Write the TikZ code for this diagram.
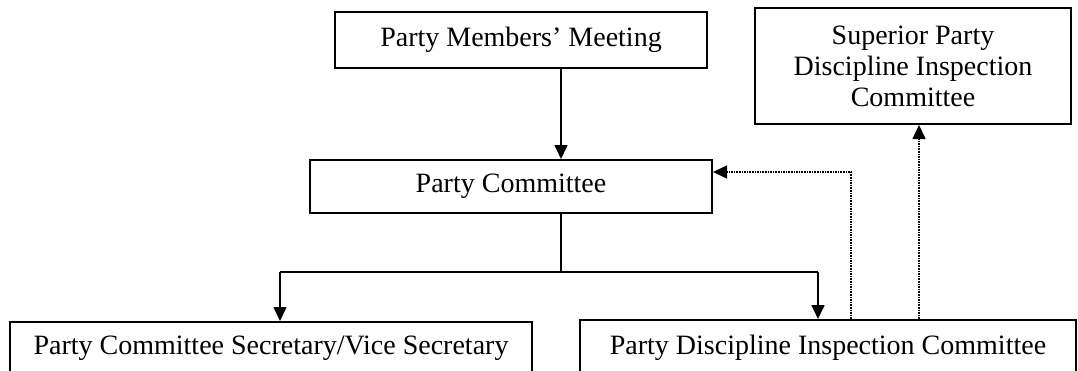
\documentclass[tikz,border=0pt]{standalone}
\usepackage{fontspec}
\setmainfont{Liberation Serif}
\usetikzlibrary{arrows.meta}
\tikzset{
 orgchart/.style={font=\fontsize{28}{31}\selectfont,line cap=butt},
 unit/.style={draw,line width=2pt,inner sep=0pt,align=center},
 link/.style={draw,line width=1.6pt},
 down/.style={link,-{Triangle[length=14pt,width=13pt]}},
 report/.style={draw,line width=1.6pt,densely dotted,-{Triangle[length=14pt,width=13pt]}}
}
\begin{document}
\begin{tikzpicture}[orgchart,x=1pt,y=-1pt]
 \useasboundingbox (0,0) rectangle (1078,370);
 \clip (0,0) rectangle (1078,370);
 \node[unit,minimum width=372pt,minimum height=56pt] (meeting) at (521,40) {Party Members' Meeting};
 \node[unit,minimum width=316pt,minimum height=116pt] (superior) at (913,66) {Superior Party\\Discipline Inspection\\Committee};
 \node[unit,minimum width=402pt,minimum height=53pt] (committee) at (511,186.5) {Party Committee};
 \node[unit,minimum width=522pt,minimum height=52pt] (secretary) at (271,348) {Party Committee Secretary/Vice Secretary};
 \node[unit,minimum width=496pt,minimum height=56pt] (inspect) at (828,348) {Party Discipline Inspection Committee};
 % tree lines
 \coordinate (split) at (561,272);
 \coordinate (leftdrop) at (280,272);
 \coordinate (rightdrop) at (818,272);
 \draw[down] (split |- meeting.south) -- (split |- committee.north);
 \draw[link] (split |- committee.south) -- (split);
 \draw[link] (leftdrop) -- (rightdrop);
 \draw[down] (leftdrop) -- (leftdrop |- secretary.north);
 \draw[down] (rightdrop) -- (rightdrop |- inspect.north);
 % supervision, dotted
 \coordinate (back) at (851,172);
 \coordinate (up) at (919,0);
 \draw[report] (back |- inspect.north) -- (back) -- (back -| committee.east);
 \draw[report] (up |- inspect.north) -- (up |- superior.south);
\end{tikzpicture}
\end{document}
